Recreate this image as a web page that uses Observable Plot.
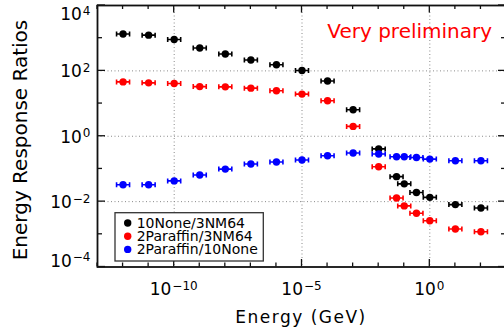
<!DOCTYPE html>
<html>
<head>
<meta charset="utf-8">
<script src="https://cdn.jsdelivr.net/npm/d3@7"></script>
<script src="https://cdn.jsdelivr.net/npm/@observablehq/plot@0.6"></script>
<style>
  html, body { margin: 0; padding: 0; background: #fff; overflow: hidden; }
  #chart svg { display: block; }
</style>
</head>
<body>
<div id="chart"></div>
<script>
// ---- data ----
const energy = [1e-12, 1e-11, 1e-10, 1e-9, 1e-8, 1e-7, 1e-6, 1e-5, 1e-4, 1e-3, 1e-2, 0.05, 0.1, 0.3, 1, 10, 100];
const ratio10None_3NM64 = [1350, 1240, 910, 500, 330, 215, 154, 103, 49, 6.5, 0.41, 0.058, 0.035, 0.019, 0.0135, 0.0081, 0.0064];
const ratio2Paraffin_3NM64 = [46, 43, 41, 33, 32.5, 29.6, 24.6, 19.5, 12.2, 2.0, 0.117, 0.0129, 0.0074, 0.0044, 0.0026, 0.00145, 0.0012];
const ratio2Paraffin_10None = [0.033, 0.033, 0.043, 0.065, 0.099, 0.141, 0.163, 0.187, 0.253, 0.306, 0.286, 0.236, 0.236, 0.225, 0.2, 0.178, 0.178];

const seriesNames = ["10None/3NM64", "2Paraffin/3NM64", "2Paraffin/10None"];
const seriesColors = ["#000000", "#ff0000", "#0000ff"];
const seriesValues = [ratio10None_3NM64, ratio2Paraffin_3NM64, ratio2Paraffin_10None];

const xTickExps = d3.range(-13, 4);       // every decade 1e-13 .. 1e3
const xLabelExps = [-10, -5, 0];
const yTickExps = d3.range(-4, 5);        // 1e-4 .. 1e4
const yLabelExps = [-4, -2, 0, 2, 4];
const xTitle = "Energy (GeV)";
const yTitle = "Energy Response Ratios";
const note = "Very preliminary";

// table built from arrays
const rows = [];
seriesValues.forEach((vals, s) => vals.forEach((v, i) => rows.push({series: seriesNames[s], energy: energy[i], ratio: v})));

const font = "DejaVu Sans";

// horizontal error-bar symbol (pixel-sized)
const errBar = {
  draw(ctx) {
    ctx.moveTo(-6.5, 0); ctx.lineTo(6.5, 0);
    ctx.moveTo(-6.5, -2.5); ctx.lineTo(-6.5, 2.5);
    ctx.moveTo(6.5, -2.5); ctx.lineTo(6.5, 2.5);
  }
};

const chart = Plot.plot({
  width: 504,
  height: 336,
  marginLeft: 97,
  marginRight: -2,
  marginTop: 5,
  marginBottom: 69.5,
  style: {background: "#fff", fontFamily: font, overflow: "hidden"},
  x: {type: "log", domain: [1e-13, 1e3], axis: null},
  y: {type: "log", domain: [1e-4, 1e4], axis: null},
  color: {domain: seriesNames, range: seriesColors},
  marks: [
    Plot.ruleX(xLabelExps.map(e => 10 ** e), {stroke: "#8a8a8a", strokeWidth: 1, strokeDasharray: "1,2.5"}),
    Plot.ruleY([1e-2, 1, 1e2], {stroke: "#8a8a8a", strokeWidth: 1, strokeDasharray: "1,2.5"}),
    Plot.dot(rows, {x: "energy", y: "ratio", stroke: "series", symbol: errBar, strokeWidth: 1.6, fill: "none", r: 4}),
    Plot.dot(rows, {x: "energy", y: "ratio", fill: "series", r: 3.7, stroke: "none"}),
    Plot.frame({stroke: "#111", strokeWidth: 1.8})
  ]
});

document.getElementById("chart").appendChild(chart);

const sx = chart.scale("x"), sy = chart.scale("y");
const svg = d3.select(chart);
const [x0, x1] = sx.range;
const [yb, yt] = sy.range; // bottom, top
const g = svg.append("g").attr("font-family", font).attr("fill", "#000").attr("text-anchor", "start");

// ticks
const tk = g.append("g").attr("stroke", "#111").attr("stroke-width", 1.3);
xTickExps.forEach(e => {
  const px = sx.apply(10 ** e);
  const len = e % 5 === 0 ? 7.5 : 4;
  tk.append("line").attr("x1", px).attr("x2", px).attr("y1", yb).attr("y2", yb - len);
  tk.append("line").attr("x1", px).attr("x2", px).attr("y1", yt).attr("y2", yt + len);
});
yTickExps.forEach(e => {
  const py = sy.apply(10 ** e);
  const len = e % 2 === 0 ? 8 : 5;
  tk.append("line").attr("x1", x0).attr("x2", x0 + len).attr("y1", py).attr("y2", py);
  tk.append("line").attr("x1", x1).attr("x2", x1 - len).attr("y1", py).attr("y2", py);
});

function powLabel(sel, e) {
  sel.append("tspan").text("10");
  sel.append("tspan").attr("font-size", 12).attr("dx", 1).attr("dy", -5.5)
     .text(String(e).replace("-", "\u2212"));
}

// x tick labels
xLabelExps.forEach(e => {
  const t = g.append("text").attr("x", sx.apply(10 ** e)).attr("y", 295)
    .attr("text-anchor", "middle").attr("font-size", 17);
  powLabel(t, e);
});
// y tick labels
yLabelExps.forEach(e => {
  const py = sy.apply(10 ** e);
  const off = e === 4 ? 15 : e === -4 ? 0 : 7;
  const t = g.append("text").attr("x", x0 - 6.5).attr("y", py + off)
    .attr("text-anchor", "end").attr("font-size", 17);
  powLabel(t, e);
});

// axis titles
g.append("text").attr("x", 301).attr("y", 323.3)
  .attr("text-anchor", "middle").attr("font-size", 17).attr("letter-spacing", 1.5).text(xTitle);
g.append("text").attr("transform", "translate(27,140) rotate(-90)")
  .attr("text-anchor", "middle").attr("font-size", 20).text(yTitle);

// annotation
g.append("text").attr("x", 327.3).attr("y", 38.3).attr("text-anchor", "start")
  .attr("font-size", 20).attr("fill", "#ff0000").text(note);

// legend
const lg = g.append("g");
lg.append("rect").attr("x", 115).attr("y", 212.7).attr("width", 148.3).attr("height", 48.3)
  .attr("fill", "#fff").attr("stroke", "#333").attr("stroke-width", 1.3);
seriesNames.forEach((name, i) => {
  const cy = 223 + i * 13.2;
  lg.append("circle").attr("cx", 127.7).attr("cy", cy).attr("r", 3.7).attr("fill", seriesColors[i]);
  lg.append("text").attr("x", 136.7).attr("y", cy + 4.8).attr("text-anchor", "start")
    .attr("font-size", 14).text(name);
});
</script>
</body>
</html>
